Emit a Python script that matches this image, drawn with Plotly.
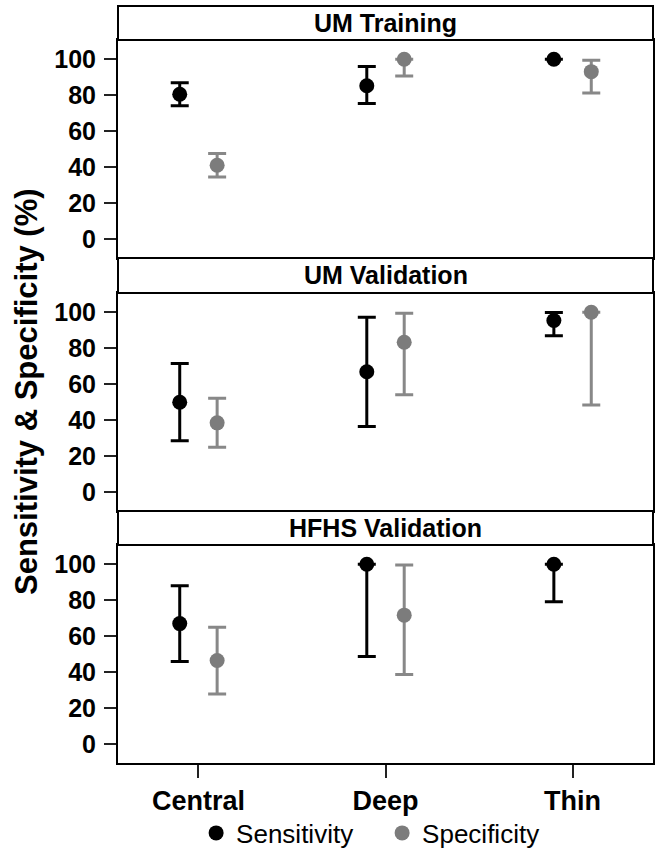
import plotly.graph_objects as go

categories = ["Central", "Deep", "Thin"]
panels = ["UM Training", "UM Validation", "HFHS Validation"]
series = ["Sensitivity", "Specificity"]

# values per panel (rows) and category (columns)
sens_val = [[80.5, 85.3, 100.0], [50.0, 66.9, 95.4], [67.0, 100.0, 100.0]]
sens_lo = [[74.1, 75.4, None], [28.5, 36.5, 86.9], [45.9, 48.7, 79.1]]
sens_hi = [[87.0, 95.9, None], [71.5, 97.2, 99.8], [88.1, 100.0, 100.0]]

spec_val = [[41.1, 100.0, 93.1], [38.5, 83.3, 100.0], [46.5, 71.7, None]]
spec_lo = [[34.6, 90.7, 81.3], [25.0, 54.1, 48.5], [27.8, 38.7, None]]
spec_hi = [[47.6, 100.0, 99.4], [52.2, 99.4, 100.0], [65.0, 99.6, None]]

y_ticks = [0, 20, 40, 60, 80, 100]

FONT = "Liberation Sans, Arial, sans-serif"
marker_colors = {"Sensitivity": "#000000", "Specificity": "#7c7c7c"}
err_colors = {"Sensitivity": "#000000", "Specificity": "#888888"}

def plus_minus(v, lo, hi):
    plus, minus = [], []
    for a, l, h in zip(v, lo, hi):
        if a is None or l is None or h is None:
            plus.append(None)
            minus.append(None)
        else:
            plus.append(h - a)
            minus.append(a - l)
    return plus, minus

fig = go.Figure()
data_sets = {"Sensitivity": (sens_val, sens_lo, sens_hi),
             "Specificity": (spec_val, spec_lo, spec_hi)}

for p in range(3):
    ax = "" if p == 0 else str(p + 1)
    for s in series:
        vals, los, his = data_sets[s]
        plus, minus = plus_minus(vals[p], los[p], his[p])
        fig.add_trace(go.Scatter(
            x=categories, y=vals[p], mode="markers", name=s,
            legendgroup=s, showlegend=(p == 0), offsetgroup=s,
            xaxis="x" + ax, yaxis="y" + ax,
            marker=dict(color=marker_colors[s], size=15, line=dict(width=0)),
            error_y=dict(type="data", symmetric=False, array=plus, arrayminus=minus,
                         color=err_colors[s], thickness=3, width=9),
        ))

H = 849
top_px, bot_px = 6, 763
plot_h = bot_px - top_px
def py(pix):
    return (bot_px - pix) / plot_h

panel_px = [(40, 258), (293, 511), (545, 763)]
strip_px = [(6, 40), (258, 293), (511, 545)]

layout = dict(
    width=656, height=H,
    margin=dict(l=118, r=3, t=top_px, b=H - bot_px, autoexpand=False),
    paper_bgcolor="white", plot_bgcolor="white",
    font=dict(family=FONT, color="black"),
    scattermode="group", scattergap=0.6,
    showlegend=True,
    legend=dict(orientation="h", x=0.146, xanchor="left", y=py(833), yanchor="middle",
                font=dict(size=26, family=FONT), itemsizing="trace",
                entrywidth=141, entrywidthmode="pixels",
                bgcolor="rgba(0,0,0,0)", itemclick=False),
)
for p in range(3):
    ax = "" if p == 0 else str(p + 1)
    t, b = panel_px[p]
    layout["yaxis" + ax] = dict(
        domain=[py(b), py(t)], range=[-10.5, 110.7], anchor="x" + ax,
        tickvals=y_ticks, ticks="outside", ticklen=12, tickwidth=1.5, tickcolor="#222",
        showgrid=False, zeroline=False, showline=True, mirror=True,
        linecolor="black", linewidth=2, ticklabelstandoff=3, automargin=False,
        tickfont=dict(size=25, family=FONT, weight="bold"),
    )
    layout["xaxis" + ax] = dict(
        anchor="y" + ax, range=[-0.43, 2.43], type="category",
        categoryorder="array", categoryarray=categories,
        showgrid=False, zeroline=False, showline=True, mirror=True,
        linecolor="black", linewidth=2, automargin=False,
        ticks="outside" if p == 2 else "", ticklen=13, tickwidth=1.5, tickcolor="#222",
        showticklabels=(p == 2), ticklabelstandoff=0,
        tickfont=dict(size=27, family=FONT, weight="bold"),
    )
fig.update_layout(**layout)

shapes = []
annotations = []
for p in range(3):
    t, b = strip_px[p]
    shapes.append(dict(type="rect", xref="paper", yref="paper", x0=0, x1=1,
                       y0=py(b), y1=py(t), line=dict(color="black", width=2),
                       fillcolor="white", layer="above"))
    annotations.append(dict(text=panels[p], xref="paper", yref="paper", x=0.5,
                            y=(py(b) + py(t)) / 2, showarrow=False,
                            xanchor="center", yanchor="middle",
                            font=dict(size=25, family=FONT, weight="bold")))
annotations.append(dict(text="Sensitivity & Specificity (%)", xref="paper", yref="paper",
                        x=(26 - 118) / 535, y=py(392), textangle=-90, showarrow=False,
                        xanchor="center", yanchor="middle",
                        font=dict(size=31, family=FONT, weight="bold")))
fig.update_layout(shapes=shapes, annotations=annotations)

fig.write_html("out.html", config={"displayModeBar": False, "staticPlot": False},
               post_script="document.body.style.margin='0px';document.body.style.overflow='hidden';")
